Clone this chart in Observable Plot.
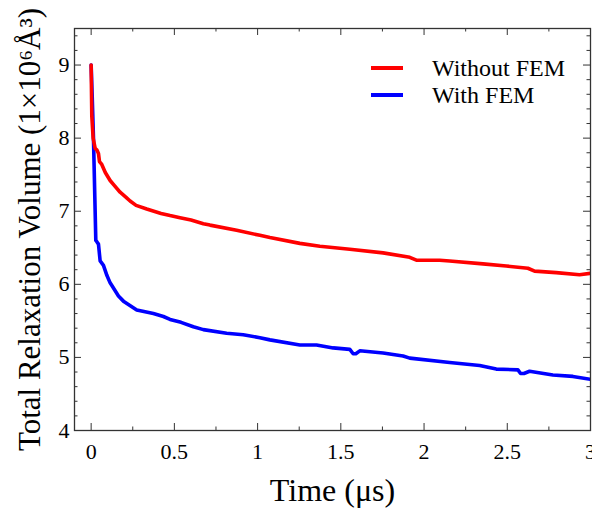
<!DOCTYPE html>
<html>
<head>
<meta charset="utf-8">
<script src="https://cdn.jsdelivr.net/npm/d3@7"></script>
<script src="https://cdn.jsdelivr.net/npm/@observablehq/plot@0.6"></script>
<style>
  html, body { margin: 0; padding: 0; background: #fff; }
  #wrap { position: relative; width: 592px; height: 508px; font-family: "Liberation Serif", "Times New Roman", serif; }
  #wrap svg text { font-family: "Liberation Serif", "Times New Roman", serif; font-variant: normal; }
  .leg { position: absolute; left: 371px; display: flex; align-items: center; }
  .sw { width: 32px; height: 4px; }
  .lt { margin-left: 29px; font-size: 24px; line-height: 24px; color: #000; white-space: nowrap; }
</style>
</head>
<body>
<div id="wrap"></div>
<script>
// Series names
const seriesNames = ["Without FEM", "With FEM"];
const seriesColors = ["#ff0000", "#0000ff"];

// Without FEM (red)
const redT = [0, 0.004, 0.012, 0.024, 0.034, 0.044, 0.05, 0.064, 0.085, 0.114, 0.14, 0.174, 0.21, 0.234, 0.27, 0.334, 0.42, 0.474, 0.534, 0.6, 0.674, 0.714, 0.874, 1.014, 1.074, 1.254, 1.374, 1.554, 1.754, 1.914, 1.954, 2.094, 2.154, 2.354, 2.494, 2.624, 2.664, 2.794, 2.934, 3.0];
const redV = [9.0, 8.3, 8.0, 7.86, 7.84, 7.79, 7.68, 7.64, 7.53, 7.42, 7.35, 7.26, 7.19, 7.14, 7.08, 7.03, 6.97, 6.94, 6.91, 6.88, 6.83, 6.81, 6.74, 6.67, 6.64, 6.56, 6.52, 6.48, 6.43, 6.37, 6.33, 6.33, 6.32, 6.28, 6.25, 6.22, 6.18, 6.16, 6.13, 6.15];

// With FEM (blue)
const blueT = [0, 0.006, 0.014, 0.022, 0.028, 0.035, 0.044, 0.054, 0.074, 0.095, 0.114, 0.134, 0.164, 0.194, 0.274, 0.374, 0.434, 0.474, 0.54, 0.614, 0.674, 0.814, 0.914, 1.014, 1.074, 1.254, 1.354, 1.454, 1.554, 1.574, 1.59, 1.614, 1.754, 1.874, 1.914, 2.154, 2.334, 2.434, 2.564, 2.58, 2.6, 2.634, 2.774, 2.894, 3.0];
const blueV = [9.0, 8.6, 8.0, 7.2, 6.6, 6.58, 6.55, 6.32, 6.26, 6.12, 6.02, 5.95, 5.84, 5.77, 5.65, 5.6, 5.56, 5.52, 5.48, 5.42, 5.38, 5.33, 5.31, 5.27, 5.24, 5.17, 5.17, 5.13, 5.11, 5.05, 5.05, 5.09, 5.06, 5.02, 4.99, 4.93, 4.89, 4.84, 4.83, 4.78, 4.78, 4.81, 4.76, 4.74, 4.70];

// Ticks
const xMajor = [0, 0.5, 1, 1.5, 2, 2.5, 3];
const xMinor = [0.25, 0.75, 1.25, 1.75, 2.25, 2.75];
const yMajor = [4, 5, 6, 7, 8, 9];
const yMinor = [4.2, 4.4, 4.6, 4.8, 5.2, 5.4, 5.6, 5.8, 6.2, 6.4, 6.6, 6.8, 7.2, 7.4, 7.6, 7.8, 8.2, 8.4, 8.6, 8.8, 9.2, 9.4];

const xTitle = "Time (μs)";
const yTitle = "Total Relaxation Volume (1×10⁶Å³)";

const W = 592, H = 508, ML = 74, MR = 2, MT = 28, MB = 78;
const PW = W - ML - MR, PH = H - MT - MB;
const major = 7, minor = 3.5;
const tickColor = "#333";
const serif = "'Liberation Serif', 'Times New Roman', serif";

const red = redT.map((t, i) => ({t, v: redV[i]}));
const blue = blueT.map((t, i) => ({t, v: blueV[i]}));

const chart = Plot.plot({
  width: W, height: H,
  marginLeft: ML, marginRight: MR, marginTop: MT, marginBottom: MB,
  x: {domain: [-0.1, 3]},
  y: {domain: [4, 9.5]},
  style: {fontFamily: serif, fontSize: "22px", color: "#000", background: "#fff", overflow: "visible"},
  marks: [
    Plot.line(blue, {x: "t", y: "v", stroke: seriesColors[1], strokeWidth: 3.6, clip: true}),
    Plot.line(red, {x: "t", y: "v", stroke: seriesColors[0], strokeWidth: 3.6, clip: true}),
    // inward ticks: bottom & top
    Plot.ruleX(xMajor, {insetTop: PH - major, stroke: tickColor}),
    Plot.ruleX(xMajor, {insetBottom: PH - major, stroke: tickColor}),
    Plot.ruleX(xMinor, {insetTop: PH - minor, stroke: tickColor}),
    Plot.ruleX(xMinor, {insetBottom: PH - minor, stroke: tickColor}),
    // inward ticks: left & right
    Plot.ruleY(yMajor, {insetRight: PW - major, stroke: tickColor}),
    Plot.ruleY(yMajor, {insetLeft: PW - major, stroke: tickColor}),
    Plot.ruleY(yMinor, {insetRight: PW - minor, stroke: tickColor}),
    Plot.ruleY(yMinor, {insetLeft: PW - minor, stroke: tickColor}),
    Plot.frame({stroke: tickColor, strokeWidth: 1.3}),
    Plot.axisX(xMajor, {tickSize: 0, tickPadding: 13, label: null, fontSize: 22, fontFamily: serif, tickFormat: d => String(d)}),
    Plot.axisY(yMajor, {tickSize: 0, tickPadding: 5, label: null, fontSize: 22, fontFamily: serif, tickFormat: d => String(d)}),
    Plot.text([xTitle], {frameAnchor: "bottom", dy: 60, fontSize: 32, fontFamily: serif, lineAnchor: "middle", textAnchor: "middle"}),
    Plot.text([yTitle], {frameAnchor: "left", dx: -44, rotate: -90, fontSize: 31, fontFamily: serif, lineAnchor: "middle", textAnchor: "middle"})
  ]
});

const wrap = document.getElementById("wrap");
wrap.appendChild(chart);

// Legend (inside plot, top-right)
const legTops = [56, 83];
seriesNames.forEach((name, i) => {
  const row = document.createElement("div");
  row.className = "leg";
  row.style.top = legTops[i] + "px";
  const sw = document.createElement("div");
  sw.className = "sw";
  sw.style.background = seriesColors[i];
  const lt = document.createElement("span");
  lt.className = "lt";
  lt.textContent = name;
  row.appendChild(sw);
  row.appendChild(lt);
  wrap.appendChild(row);
});
</script>
</body>
</html>
